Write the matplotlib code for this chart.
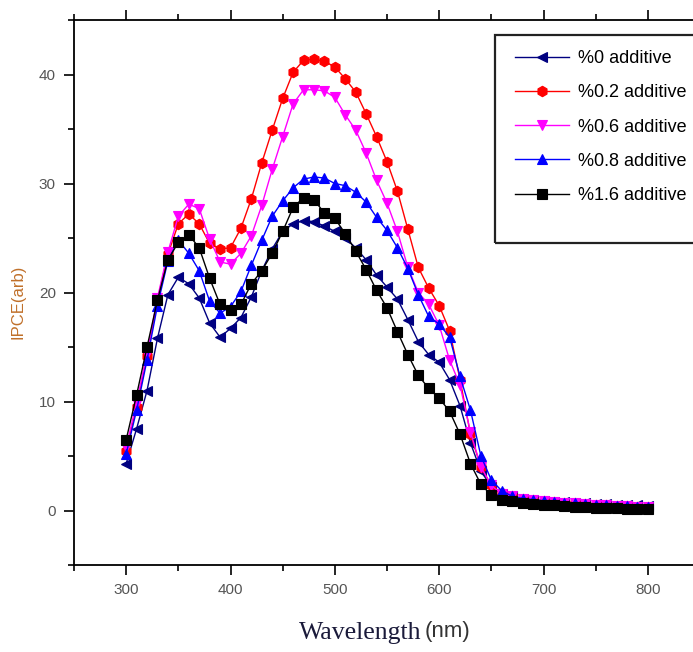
import numpy as np
import matplotlib.pyplot as plt
from matplotlib.patches import Rectangle

# ── data ──────────────────────────────────────────────────
wavelength = list(range(300, 810, 10))

tail_hi = [1.3, 1.1, 1.0, 0.9, 0.8, 0.7, 0.7, 0.6, 0.5, 0.5, 0.4, 0.4, 0.3, 0.3]
tail_lo = [0.9, 0.7, 0.6, 0.5, 0.5, 0.4, 0.3, 0.3, 0.2, 0.2, 0.2, 0.1, 0.1, 0.1]

add_0 = [4.3, 7.5, 11.0, 15.8, 19.8, 21.4, 20.8, 19.5, 17.2, 15.9,
         16.7, 17.7, 19.6, 22.0, 24.0, 25.6, 26.3, 26.6, 26.5, 26.1,
         25.6, 25.0, 24.1, 23.0, 21.6, 20.5, 19.4, 17.5, 15.5, 14.3,
         13.6, 12.0, 9.6, 6.2, 3.6, 2.2, 1.5,
         1.3, 1.1, 1.0, 0.9, 0.8, 0.8, 0.7, 0.7, 0.6, 0.6, 0.5, 0.5, 0.5, 0.4]
add_02 = [5.5, 9.5, 14.2, 19.3, 23.5, 26.3, 27.2, 26.3, 24.5, 24.0,
          24.1, 25.9, 28.6, 31.9, 34.9, 37.8, 40.2, 41.3, 41.4, 41.2,
          40.7, 39.6, 38.4, 36.4, 34.3, 32.0, 29.3, 25.8, 22.3, 20.4,
          18.8, 16.5, 12.0, 7.0, 4.0, 2.3, 1.6] + tail_hi
add_06 = [5.8, 9.9, 14.4, 19.5, 23.7, 27.0, 28.1, 27.7, 24.9, 22.8,
          22.6, 23.6, 25.2, 28.0, 31.3, 34.3, 37.3, 38.6, 38.6, 38.5,
          37.9, 36.3, 34.9, 32.8, 30.3, 28.2, 25.6, 22.3, 20.0, 18.9,
          17.0, 13.8, 11.5, 7.2, 4.0, 2.3, 1.5] + tail_hi
add_08 = [5.2, 9.2, 13.8, 18.8, 22.9, 24.8, 23.6, 22.0, 19.2, 18.1,
          18.7, 20.1, 22.5, 24.8, 27.0, 28.4, 29.6, 30.4, 30.6, 30.5,
          30.0, 29.8, 29.2, 28.3, 26.9, 25.7, 24.1, 22.2, 19.8, 17.8,
          17.1, 15.9, 12.3, 9.2, 5.0, 2.8, 1.8] + tail_hi
add_16 = [6.5, 10.6, 15.0, 19.3, 23.0, 24.6, 25.3, 24.1, 21.3, 18.9,
          18.4, 18.9, 20.8, 22.0, 23.6, 25.6, 27.8, 28.7, 28.5, 27.3,
          26.8, 25.4, 23.8, 22.1, 20.2, 18.6, 16.4, 14.3, 12.4, 11.2,
          10.3, 9.1, 7.0, 4.3, 2.4, 1.4, 1.0] + tail_lo

labels = ['%0 additive', '%0.2 additive', '%0.6 additive',
          '%0.8 additive', '%1.6 additive']
series = [add_0, add_02, add_06, add_08, add_16]
colors = ['#000080', '#ff0000', '#ff00ff', '#0000ff', '#000000']
markers = ['<', 'h', 'v', '^', 's']

# ── figure ────────────────────────────────────────────────
fig = plt.figure(figsize=(6.93, 6.52), dpi=100)
ax = fig.add_axes([74 / 693, 87 / 652, 626 / 693, 545 / 652])

handles = []
for y, c, m, lab in zip(series, colors, markers, labels):
    h, = ax.plot(wavelength, y, color=c, marker=m, markersize=7.5,
                 linewidth=1, markeredgewidth=0.8, label=lab)
    handles.append(h)

ax.set_xlim(250, 850)
ax.set_ylim(-5, 45)
ax.set_xticks([300, 400, 500, 600, 700, 800])
ax.set_xticks(np.arange(250, 851, 50), minor=True)
ax.set_yticks([0, 10, 20, 30, 40])
ax.set_yticks(np.arange(-5, 46, 5), minor=True)

for s in ax.spines.values():
    s.set_linewidth(1.3)
ax.tick_params(which='both', direction='out', top=True, right=False,
               labelsize=11, labelcolor='#555555', width=1.2)
ax.tick_params(which='major', length=7, pad=6)
ax.tick_params(which='minor', length=4)
for t in ax.get_xticklabels() + ax.get_yticklabels():
    t.set_family(['Liberation Sans', 'DejaVu Sans'])

# axis labels
fig.text(421 / 693, 1 - 633 / 652, 'Wavelength',
         ha='right', va='center', fontsize=18.5,
         family=['Liberation Serif', 'DejaVu Serif'], color='#1a1a3a')
fig.text(425 / 693, 1 - 632 / 652, '(nm)',
         ha='left', va='center', fontsize=16,
         family=['Liberation Sans', 'DejaVu Sans'], color='#333333')
fig.text(18 / 693, 1 - 302 / 652, 'IPCE(arb)', rotation=90,
         ha='center', va='center', fontsize=12, color='#c0702a',
         family=['Liberation Sans', 'DejaVu Sans'])

# legend
leg = ax.legend(handles=handles, loc='upper left',
                bbox_to_anchor=(508 / 693, 1 - 43 / 652),
                bbox_transform=fig.transFigure, frameon=False,
                handlelength=3.0, handletextpad=0.45,
                labelspacing=0.95, borderaxespad=0,
                prop={'family': ['Liberation Sans', 'DejaVu Sans'], 'size': 13})
fig.patches.append(Rectangle((495 / 693, 1 - 243 / 652), 0.4, 208 / 652,
                             transform=fig.transFigure, fill=False,
                             edgecolor='#222222', linewidth=1.6))

fig.savefig('out.png', dpi=100)
